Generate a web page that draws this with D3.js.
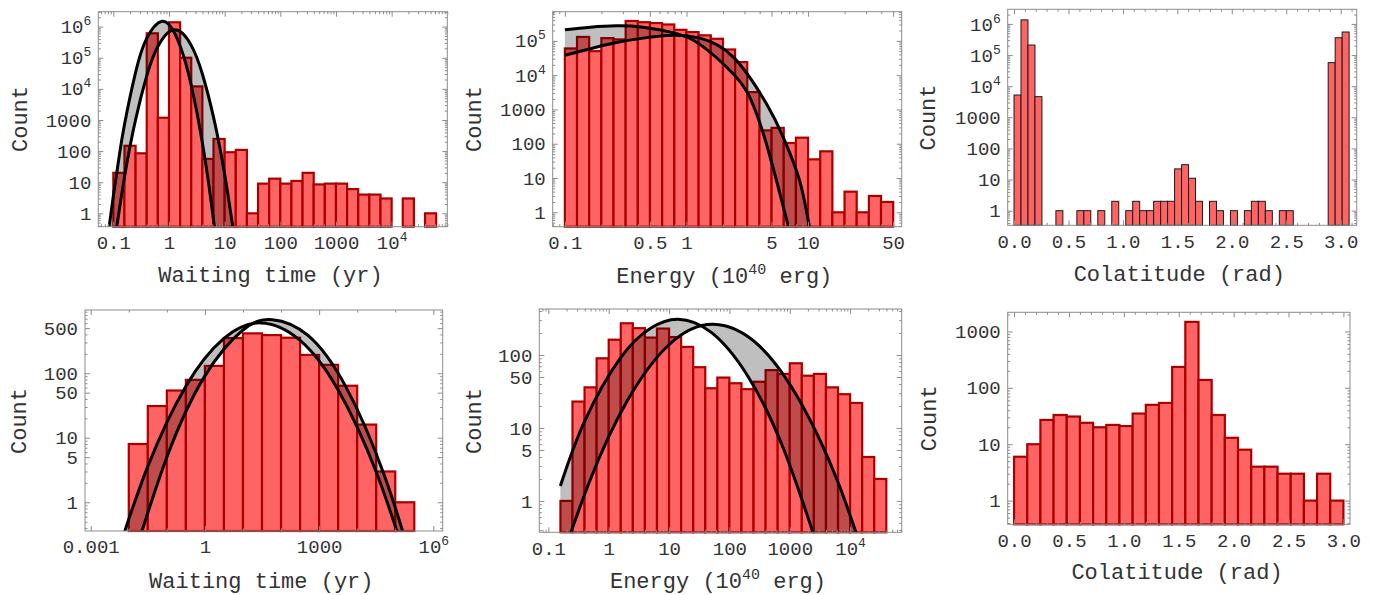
<!DOCTYPE html>
<html>
<head>
<meta charset="utf-8">
<script src="https://cdn.jsdelivr.net/npm/d3@7"></script>
<style>
body{margin:0;background:#fff;}
svg text{font-family:'Liberation Mono','DejaVu Sans Mono',monospace;}
</style>
</head>
<body>
<svg id="chart" width="1375" height="595"></svg>
<script>
// ---------- values ----------
// top row : waiting time histogram, bins 0.2 dex wide from 0.1 yr
var wtTopCounts = [20,148,85,6.1e5,1180,1.38e6,1e5,1.2e4,56,245,92,109,1,9,13,9,11,20,8.5,9,9,6,4,4,3,0,3,0,1];
var wtTopBins = {start:0.1, dex:0.2};
var wtTopFitA = [[0.079,0.16],[0.1,3.6],[0.126,59],[0.158,690],[0.251,3.4e4],[0.398,4.2e5],[0.745,1.48e6],[1.26,6.2e5],[2.0,6.6e4],[3.16,1800],[5.01,13],[7.94,0.023]];
var wtTopFitB = [[0.1,0.065],[0.158,14],[0.251,1020],[0.398,2.6e4],[0.631,2.3e5],[1.27,7.9e5],[2.51,2.5e5],[3.98,3.0e4],[6.31,1230],[10,18],[15.8,0.085]];

// top row : energy histogram, bins 0.1 dex wide from 0.1
var enTopCounts = [6e4,1.3e5,5e4,1.2e5,1.1e5,3.8e5,3.5e5,3.3e5,3.0e5,2.1e5,1.8e5,1.45e5,1.15e5,5.6e4,2.4e4,3200,245,290,105,150,35,60,1,4,1,3,2];
var enTopBins = {start:0.1, dex:0.1};
var enTopFitA = [[0.1,2.1e5],[0.162,2.5e5],[0.266,2.75e5],[0.44,2.5e5],[0.776,1.74e5],[1.29,7.9e4],[2.42,1.1e4],[3.31,2300],[4.54,100],[6.84,0.42],[7.94,0.05]];
var enTopFitB = [[0.1,3.8e4],[0.162,5.9e4],[0.266,8.9e4],[0.44,1.2e5],[0.776,1.45e5],[1.29,1.2e5],[2.42,3.4e4],[4.54,1480],[6.22,160],[8.51,8.5],[10.2,0.42],[12.6,0.016]];

// top row : colatitude histogram, bins pi/49 wide from 0
var coTopCounts = [5200,1.35e6,2.1e5,4600,0,0,1,0,0,1,1,0,1,0,2,0,1,2,1,1,2,2,2,22,30,11,2,0,2,1,0,1,0,1,2,2,1,0,1,1,0,0,0,0,0,5.7e4,3.6e5,5.5e5,0];
var coTopBins = {start:0, width:Math.PI/49};

// bottom row : waiting time, bins 0.5 dex wide from 0.01 yr
var wtBotCounts = [8,31,54,79,130,350,415,390,355,192,135,64,16,3,1];
var wtBotBins = {start:0.01, dex:0.5};
var wtBotFitA = [[0.005,0.16],[0.0316,3.6],[0.316,63],[3.16,347],[29.5,603],[316,324],[3162,55],[31600,2.95],[2e5,0.12]];
var wtBotFitB = [[0.0126,0.123],[0.1,5.0],[1,91],[10,468],[59,676],[501,389],[5012,62],[50100,2.75],[3.16e5,0.091]];

// bottom row : energy, bins 0.2 dex wide from 10^-0.8
var enBotCounts = [1,23,36,90,162,272,233,173,230,176,129,68,35,49,41,34,43,62,55,77,52,55,36,29,22,4,2];
var enBotBins = {start:0.1585, dex:0.2};
var enBotFitA = [[0.158,1.6],[0.398,12.3],[1.58,92],[5.01,234],[14.1,309],[50.1,204],[200,52],[794,5.1],[3162,0.19]];
var enBotFitB = [[0.158,0.14],[0.5,2.0],[2.0,23],[10,138],[54,263],[316,132],[1585,21],[6310,1.8],[2e4,0.115]];

// bottom row : colatitude, bins 0.12 wide from 0
var coBotCounts = [6,10,27,33,31,24,20,22,21,35,50,54,235,1480,138,33,13,8,4,4,3,3,1,3,1];
var coBotBins = {start:0, width:0.12};

// tick values and labels
var decX1 = [0.1,1,10,100,1000,1e4], decX1Lab = ['0.1','1','10','100','1000','10^4'];
var enTopXTicks = [0.1,0.5,1,5,10,50], enTopXLab = ['0.1','0.5','1','5','10','50'];
var coXTicks = [0,0.5,1,1.5,2,2.5,3], coXLab = ['0.0','0.5','1.0','1.5','2.0','2.5','3.0'];
var wtBotXTicks = [0.001,1,1000,1e6], wtBotXLab = ['0.001','1','1000','10^6'];
var y6Ticks = [1,10,100,1000,1e4,1e5,1e6], y6Lab = ['1','10','100','1000','10^4','10^5','10^6'];
var y5Ticks = [1,10,100,1000,1e4,1e5], y5Lab = ['1','10','100','1000','10^4','10^5'];
var wtBotYTicks = [1,5,10,50,100,500], wtBotYLab = ['1','5','10','50','100','500'];
var enBotYTicks = [1,5,10,50,100], enBotYLab = ['1','5','10','50','100'];
var coBotYTicks = [1,10,100,1000], coBotYLab = ['1','10','100','1000'];

var xTitleWait = 'Waiting time (yr)', xTitleEn = 'Energy (10^40 erg)', xTitleCo = 'Colatitude (rad)', yTitle = 'Count';

// ---------- styles ----------
var BAR_FILL = '#ff6464', BAR_EDGE = '#aa0000', FRAME = '#8c8c8c', TXT = '#333';

var svg = d3.select('#chart');
var defs = svg.append('defs');

function richText(sel, str, supSize, rise){
  sel.text(null);
  var parts = str.split(/\^(\d+)/);
  parts.forEach(function(s, i){
    if (s === '') return;
    var t = sel.append('tspan').text(s);
    if (i % 2 == 1) t.attr('font-size', supSize).attr('dy', -rise);
    else if (i > 0) t.attr('dy', rise);
  });
}

function near(v, list){ return list.some(function(t){ return Math.abs(v/t - 1) < 1e-6 || Math.abs(v - t) < 1e-9; }); }

function logMinor(dom, majors, steps){
  var out = [];
  var k0 = Math.floor(Math.log10(dom[0])), k1 = Math.ceil(Math.log10(dom[1]));
  for (var k = k0; k <= k1; k++) steps.forEach(function(m){
    var v = m * Math.pow(10, k);
    if (v >= dom[0] && v <= dom[1] && !near(v, majors)) out.push(v);
  });
  return out;
}
function linMinor(dom, majors, step){
  var out = [];
  for (var v = Math.ceil(dom[0]/step)*step; v <= dom[1]; v += step){
    v = Math.round(v*1000)/1000;
    if (!near(v, majors)) out.push(v);
  }
  return out;
}

function drawPanel(p){
  var L = p.frame[0], T = p.frame[1], R = p.frame[2], B = p.frame[3];
  var x = (p.xLog ? d3.scaleLog() : d3.scaleLinear()).domain(p.xDom).range([L, R]);
  var y = d3.scaleLog().domain(p.yDom).range([B, T]);
  var g = svg.append('g');

  defs.append('clipPath').attr('id', 'clip-' + p.id)
    .append('rect').attr('x', L).attr('y', T).attr('width', R - L).attr('height', B - T);

  // bars
  var bars = [];
  p.counts.forEach(function(c, i){
    if (c <= 0) return;
    var e0, e1;
    if (p.xLog){ e0 = p.bins.start * Math.pow(10, i*p.bins.dex); e1 = p.bins.start * Math.pow(10, (i+1)*p.bins.dex); }
    else { e0 = p.bins.start + i*p.bins.width; e1 = p.bins.start + (i+1)*p.bins.width; }
    bars.push({c:c, e0:e0, e1:e1});
  });
  g.append('g').selectAll('rect').data(bars).enter().append('rect')
    .attr('x', function(d){ return x(d.e0); })
    .attr('width', function(d){ return x(d.e1) - x(d.e0); })
    .attr('y', function(d){ return y(d.c); })
    .attr('height', function(d){ return B - y(d.c); })
    .attr('fill', BAR_FILL)
    .attr('stroke', p.edge || BAR_EDGE)
    .attr('stroke-width', p.edgeW || 2.2);

  // fitted curves and the band between them
  if (p.fits){
    var line = d3.line().x(function(d){ return x(d[0]); }).y(function(d){ return y(d[1]); }).curve(d3.curveNatural);
    var pa = line(p.fits[0]), pb = line(p.fits[1].slice().reverse());
    var cg = g.append('g').attr('clip-path', 'url(#clip-' + p.id + ')');
    cg.append('path').attr('d', pa + 'L' + pb.slice(1) + 'Z')
      .attr('fill', 'black').attr('fill-opacity', 0.25).attr('stroke', 'none');
    p.fits.forEach(function(f){
      cg.append('path').attr('d', line(f)).attr('fill', 'none')
        .attr('stroke', 'black').attr('stroke-width', 3);
    });
  }

  // frame
  g.append('rect').attr('x', L).attr('y', T).attr('width', R - L).attr('height', B - T)
    .attr('fill', 'none').attr('stroke', FRAME).attr('stroke-width', 1);

  // ticks
  var xMinor = p.xLog ? logMinor(p.xDom, p.xTicks, p.xSteps || [1,2,3,4,5,6,7,8,9]) : linMinor(p.xDom, p.xTicks, 0.1);
  var yMinor = logMinor(p.yDom, p.yTicks, [1,2,3,4,5,6,7,8,9]);

  function ax(fn, scale, vals, size, tr){
    var a = g.append('g').attr('transform', tr).attr('color', FRAME)
      .call(fn(scale).tickValues(vals).tickSize(-size).tickFormat(''));
    a.select('.domain').remove();
    return a;
  }
  ax(d3.axisTop, x, p.xTicks, 5, 'translate(0,' + T + ')');
  ax(d3.axisTop, x, xMinor, 2.5, 'translate(0,' + T + ')');
  ax(d3.axisRight, y, p.yTicks, 5, 'translate(' + R + ',0)');
  ax(d3.axisRight, y, yMinor, 2.5, 'translate(' + R + ',0)');
  ax(d3.axisBottom, x, xMinor, 2.5, 'translate(0,' + B + ')');
  ax(d3.axisLeft, y, yMinor, 2.5, 'translate(' + L + ',0)');

  var xa = g.append('g').attr('transform', 'translate(0,' + B + ')').attr('color', FRAME)
    .call(d3.axisBottom(x).tickValues(p.xTicks).tickSize(-5).tickPadding(9).tickFormat(function(d, i){ return p.xLab[i]; }));
  xa.select('.domain').remove();
  xa.selectAll('text').attr('fill', TXT).attr('font-size', 19)
    .attr('font-family', "'Liberation Mono','DejaVu Sans Mono',monospace")
    .each(function(d, i){ richText(d3.select(this), p.xLab[i], 13, 8); });

  var ya = g.append('g').attr('transform', 'translate(' + L + ',0)').attr('color', FRAME)
    .call(d3.axisLeft(y).tickValues(p.yTicks).tickSize(-5).tickPadding(7).tickFormat(function(d, i){ return p.yLab[i]; }));
  ya.select('.domain').remove();
  ya.selectAll('text').attr('fill', TXT).attr('font-size', 19)
    .attr('font-family', "'Liberation Mono','DejaVu Sans Mono',monospace")
    .each(function(d, i){ richText(d3.select(this), p.yLab[i], 13, 8); });

  // axis titles
  var xt = g.append('text').attr('x', p.xTitlePos[0]).attr('y', p.xTitlePos[1])
    .attr('text-anchor', 'middle').attr('font-size', 22).attr('fill', TXT);
  richText(xt, p.xTitle, 15, 9);
  g.append('text').attr('transform', 'translate(' + p.yTitlePos[0] + ',' + p.yTitlePos[1] + ') rotate(-90)')
    .attr('text-anchor', 'middle').attr('font-size', 22).attr('fill', TXT).text(yTitle);
}

var panels = [
  {id:'p1', frame:[98.3,11.7,447.3,226.7], xLog:true, xDom:[Math.pow(10,-1.27),1e5], yDom:[Math.pow(10,-0.43),Math.pow(10,6.48)],
   counts:wtTopCounts, bins:wtTopBins, fits:[wtTopFitA, wtTopFitB],
   xTicks:decX1, xLab:decX1Lab, yTicks:y6Ticks, yLab:y6Lab,
   xTitle:xTitleWait, xTitlePos:[270.5,281.5], yTitlePos:[26.7,119]},
  {id:'p2', frame:[552.7,11.7,901.7,226.7], xLog:true, xDom:[Math.pow(10,-1.10),Math.pow(10,1.77)], yDom:[Math.pow(10,-0.42),Math.pow(10,5.85)],
   counts:enTopCounts, bins:enTopBins, fits:[enTopFitA, enTopFitB],
   xTicks:enTopXTicks, xLab:enTopXLab, yTicks:y5Ticks, yLab:y5Lab,
   xTitle:xTitleEn, xTitlePos:[724.3,282.5], yTitlePos:[480.7,119]},
  {id:'p3', frame:[1007.7,9.3,1356.7,225.3], xLog:false, xDom:[-0.058,3.147], yDom:[Math.pow(10,-0.47),Math.pow(10,6.47)],
   counts:coTopCounts, bins:coTopBins, edge:'#1a1a1a', edgeW:1,
   xTicks:coXTicks, xLab:coXLab, yTicks:y6Ticks, yLab:y6Lab,
   xTitle:xTitleCo, xTitlePos:[1179.3,281], yTitlePos:[935,117.5]},
  {id:'p4', frame:[85,310,442.7,531], xLog:true, xDom:[Math.pow(10,-3.15),Math.pow(10,6.246)], yDom:[Math.pow(10,-0.445),Math.pow(10,2.98)],
   counts:wtBotCounts, bins:wtBotBins, fits:[wtBotFitA, wtBotFitB], xSteps:[1],
   xTicks:wtBotXTicks, xLab:wtBotXLab, yTicks:wtBotYTicks, yLab:wtBotYLab,
   xTitle:xTitleWait, xTitlePos:[261.3,588], yTitlePos:[26,421]},
  {id:'p5', frame:[539.3,309,901.7,532.3], xLog:true, xDom:[Math.pow(10,-1.15),Math.pow(10,4.855)], yDom:[Math.pow(10,-0.43),Math.pow(10,2.63)],
   counts:enBotCounts, bins:enBotBins, fits:[enBotFitA, enBotFitB],
   xTicks:decX1, xLab:decX1Lab, yTicks:enBotYTicks, yLab:enBotYLab,
   xTitle:xTitleEn, xTitlePos:[718,588], yTitlePos:[480.7,421]},
  {id:'p6', frame:[1007.7,312.3,1350,524.3], xLog:false, xDom:[-0.058,3.06], yDom:[Math.pow(10,-0.42),Math.pow(10,3.34)],
   counts:coBotCounts, bins:coBotBins,
   xTicks:coXTicks, xLab:coXLab, yTicks:coBotYTicks, yLab:coBotYLab,
   xTitle:xTitleCo, xTitlePos:[1177,579], yTitlePos:[935.7,418.3]}
];

panels.forEach(drawPanel);
</script>
</body>
</html>
